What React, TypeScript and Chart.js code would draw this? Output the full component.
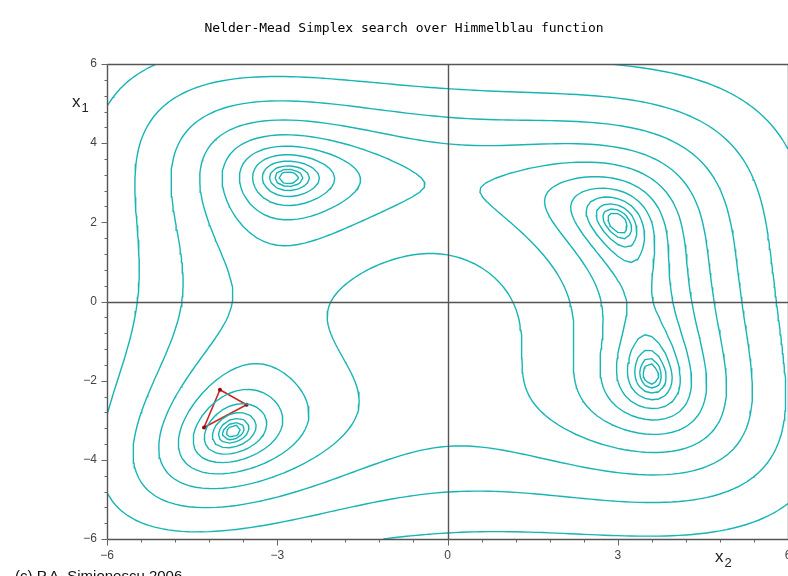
import React, { useEffect, useRef } from "react";
import { Chart, registerables } from "chart.js";

Chart.register(...registerables);

// ---------------- data ----------------
const TITLE = "Nelder-Mead Simplex search over Himmelblau function";
const CREDIT = "(c) P.A. Simionescu 2006";
const X_LABEL = ["x", "2"];
const Y_LABEL = ["x", "1"];
const xRange = [-6, 6];
const yRange = [-6, 6];
const xMajorTicks = [-6, -3, 0, 3, 6];
const yMajorTicks = [-6, -4, -2, 0, 2, 4, 6];
const xMinorStep = 0.6;
const yMinorStep = 0.4;
const contourLevels = [1, 2, 4, 8, 16, 32, 64, 128, 256, 512, 1024];
const simplexX = [-4.01, -3.54, -4.29];
const simplexY = [-2.23, -2.61, -3.18];
const GRID_N = 100;

function himmelblau(x: number, y: number): number {
  return (x * x + y - 11) ** 2 + (x + y * y - 7) ** 2;
}

type Pt = { x: number; y: number };

function contourLines(level: number): Pt[][] {
  const n = GRID_N;
  const hx = (xRange[1] - xRange[0]) / n;
  const hy = (yRange[1] - yRange[0]) / n;
  const X = (i: number) => xRange[0] + i * hx;
  const Y = (j: number) => yRange[0] + j * hy;
  const v: number[][] = [];
  for (let i = 0; i <= n; i++) {
    v[i] = [];
    for (let j = 0; j <= n; j++) v[i][j] = himmelblau(X(i), Y(j));
  }
  const pts = new Map<string, Pt>();
  const adj = new Map<string, string[]>();
  const hKey = (i: number, j: number) => {
    const k = `h${i},${j}`;
    if (!pts.has(k)) {
      const a = v[i][j], b = v[i + 1][j];
      const t = (level - a) / (b - a);
      pts.set(k, { x: X(i) + t * hx, y: Y(j) });
    }
    return k;
  };
  const vKey = (i: number, j: number) => {
    const k = `v${i},${j}`;
    if (!pts.has(k)) {
      const a = v[i][j], b = v[i][j + 1];
      const t = (level - a) / (b - a);
      pts.set(k, { x: X(i), y: Y(j) + t * hy });
    }
    return k;
  };
  const link = (k1: string, k2: string) => {
    if (!adj.has(k1)) adj.set(k1, []);
    if (!adj.has(k2)) adj.set(k2, []);
    adj.get(k1)!.push(k2);
    adj.get(k2)!.push(k1);
  };
  for (let i = 0; i < n; i++) {
    for (let j = 0; j < n; j++) {
      const a = v[i][j], b = v[i + 1][j], c = v[i + 1][j + 1], d = v[i][j + 1];
      const idx = (a > level ? 1 : 0) | (b > level ? 2 : 0) | (c > level ? 4 : 0) | (d > level ? 8 : 0);
      if (idx === 0 || idx === 15) continue;
      const B = () => hKey(i, j);
      const R = () => vKey(i + 1, j);
      const T = () => hKey(i, j + 1);
      const L = () => vKey(i, j);
      const center = (a + b + c + d) / 4;
      switch (idx) {
        case 1: case 14: link(L(), B()); break;
        case 2: case 13: link(B(), R()); break;
        case 3: case 12: link(L(), R()); break;
        case 4: case 11: link(R(), T()); break;
        case 6: case 9: link(B(), T()); break;
        case 7: case 8: link(L(), T()); break;
        case 5:
          if (center > level) { link(B(), R()); link(L(), T()); }
          else { link(L(), B()); link(R(), T()); }
          break;
        case 10:
          if (center > level) { link(L(), B()); link(R(), T()); }
          else { link(B(), R()); link(L(), T()); }
          break;
      }
    }
  }
  const visited = new Set<string>();
  const lines: Pt[][] = [];
  const trace = (start: string) => {
    const line: Pt[] = [pts.get(start)!];
    visited.add(start);
    let prev = "";
    let cur = start;
    for (;;) {
      const nbs = adj.get(cur) || [];
      const next = nbs.find((k) => k !== prev && !visited.has(k));
      if (!next) {
        if (line.length > 2 && nbs.includes(start)) line.push(pts.get(start)!);
        break;
      }
      visited.add(next);
      line.push(pts.get(next)!);
      prev = cur;
      cur = next;
    }
    if (line.length > 1) lines.push(line);
  };
  for (const [k, nb] of adj) if (nb.length === 1 && !visited.has(k)) trace(k);
  for (const k of adj.keys()) if (!visited.has(k)) trace(k);
  return lines;
}

const fmt = (v: number) => (v < 0 ? "\u2212" + Math.abs(v) : String(v));

const CONTOUR_COLOR = "#19b4b4";
const AXIS_COLOR = "#555555";
const TICK_FONT = { family: "'Liberation Sans', Arial, sans-serif", size: 12 };

const decorPlugin = {
  id: "decor",
  afterDatasetsDraw(chart: any) {
    const { ctx, chartArea } = chart;
    const xs = chart.scales.x;
    const ys = chart.scales.y;
    const { left, right, top, bottom } = chartArea;
    ctx.save();
    ctx.strokeStyle = AXIS_COLOR;
    ctx.lineWidth = 1.4;
    const px = (p: number) => Math.round(p) + 0.5;
    ctx.beginPath();
    // box
    ctx.moveTo(px(left), px(top)); ctx.lineTo(px(right), px(top));
    ctx.moveTo(px(left), px(top)); ctx.lineTo(px(left), px(bottom));
    ctx.moveTo(px(left), px(bottom)); ctx.lineTo(px(right), px(bottom));
    ctx.moveTo(px(right), px(top)); ctx.lineTo(px(right), px(bottom));
    // zero lines
    const x0 = px(xs.getPixelForValue(0));
    const y0 = px(ys.getPixelForValue(0));
    ctx.moveTo(x0, px(top)); ctx.lineTo(x0, px(bottom));
    ctx.moveTo(px(left), y0); ctx.lineTo(px(right), y0);
    ctx.stroke();
    // ticks
    ctx.lineWidth = 1;
    ctx.strokeStyle = "#666";
    ctx.beginPath();
    const ny = Math.round((yRange[1] - yRange[0]) / yMinorStep);
    for (let k = 0; k <= ny; k++) {
      const val = yRange[0] + k * yMinorStep;
      const isMajor = yMajorTicks.some((t) => Math.abs(t - val) < 1e-6);
      const yy = px(ys.getPixelForValue(val));
      ctx.moveTo(px(left), yy);
      ctx.lineTo(px(left) - (isMajor ? 6 : 3), yy);
    }
    const nx = Math.round((xRange[1] - xRange[0]) / xMinorStep);
    for (let k = 0; k <= nx; k++) {
      const val = xRange[0] + k * xMinorStep;
      const isMajor = xMajorTicks.some((t) => Math.abs(t - val) < 1e-6);
      const xx = px(xs.getPixelForValue(val));
      ctx.moveTo(xx, px(bottom));
      ctx.lineTo(xx, px(bottom) + (isMajor ? 6 : 3));
    }
    ctx.stroke();

    // title
    ctx.fillStyle = "#000";
    ctx.font = "13px 'DejaVu Sans Mono', monospace";
    ctx.textAlign = "center";
    ctx.textBaseline = "middle";
    ctx.fillText(TITLE, 404, 29);

    // axis labels
    ctx.fillStyle = "#222";
    ctx.textAlign = "left";
    ctx.textBaseline = "alphabetic";
    const drawSub = (lbl: string[], x: number, y: number) => {
      ctx.font = "17px 'Liberation Sans', Arial, sans-serif";
      ctx.fillText(lbl[0], x, y);
      const w = ctx.measureText(lbl[0]).width;
      ctx.font = "13px 'Liberation Sans', Arial, sans-serif";
      ctx.fillText(lbl[1], x + w + 1, y + 5);
    };
    drawSub(Y_LABEL, 72, 107);
    drawSub(X_LABEL, 715, 562);

    ctx.font = "15px 'Liberation Sans', Arial, sans-serif";
    ctx.fillStyle = "#111";
    ctx.fillText(CREDIT, 15, 581);
    ctx.restore();
  },
};

export default function App() {
  const ref = useRef<HTMLCanvasElement | null>(null);
  useEffect(() => {
    if (!ref.current) return;
    const datasets: any[] = [];
    for (const level of contourLevels) {
      for (const line of contourLines(level)) {
        datasets.push({
          data: line,
          showLine: true,
          borderColor: CONTOUR_COLOR,
          borderWidth: 1.4,
          pointRadius: 0,
          fill: false,
          tension: 0,
        });
      }
    }
    const tri = simplexX.map((x, i) => ({ x, y: simplexY[i] }));
    tri.push({ ...tri[0] });
    datasets.push({
      data: tri,
      showLine: true,
      borderColor: "#c62828",
      borderWidth: 1.6,
      pointRadius: [2, 2, 2, 0],
      pointBackgroundColor: "#a00000",
      pointBorderWidth: 0,
      fill: false,
      tension: 0,
    });
    const chart = new Chart(ref.current, {
      type: "scatter",
      data: { datasets },
      options: {
        animation: false,
        responsive: false,
        events: [],
        layout: { padding: { left: 57, top: 64, right: 42, bottom: 7 } },
        plugins: { legend: { display: false }, tooltip: { enabled: false }, title: { display: false } },
        scales: {
          x: {
            type: "linear",
            min: xRange[0],
            max: xRange[1],
            afterBuildTicks: (s: any) => { s.ticks = xMajorTicks.map((value) => ({ value })); },
            afterFit: (s: any) => { s.height = 30; s.paddingLeft = 0; s.paddingRight = 0; },
            ticks: { font: TICK_FONT, color: "#444", padding: 9, maxRotation: 0, autoSkip: false, callback: (v: any) => fmt(Number(v)) },
            grid: { display: false, drawTicks: false },
            border: { display: false },
          },
          y: {
            type: "linear",
            min: yRange[0],
            max: yRange[1],
            afterBuildTicks: (s: any) => { s.ticks = yMajorTicks.map((value) => ({ value })); },
            afterFit: (s: any) => { s.width = 50; s.paddingTop = 0; s.paddingBottom = 0; },
            ticks: { font: TICK_FONT, color: "#444", padding: 10, autoSkip: false, callback: (v: any) => fmt(Number(v)) },
            grid: { display: false, drawTicks: false },
            border: { display: false },
          },
        },
      },
      plugins: [decorPlugin],
    });
    return () => chart.destroy();
  }, []);
  return (
    <div style={{ position: "fixed", left: 0, top: 0, width: 788, height: 576, overflow: "hidden", background: "#fff" }}>
      <canvas ref={ref} width={830} height={576} style={{ display: "block" }} />
    </div>
  );
}
